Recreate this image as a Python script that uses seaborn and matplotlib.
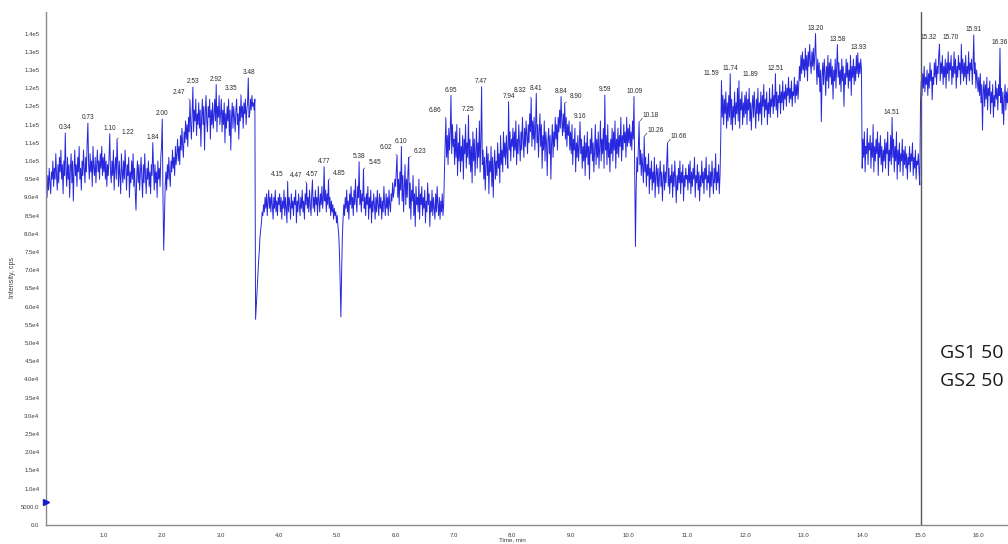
import numpy as np
import pandas as pd
import matplotlib
matplotlib.use("Agg")
import matplotlib.pyplot as plt
import seaborn as sns

# Scan cycle of the acquisition (minutes per data point)
SCAN_INTERVAL_MIN = 0.0125

# Total ion current, thousands of cps, one list per minute of the run
tic_min00 = [88, 93, 90, 96, 92, 98, 94, 91, 97, 95,
             100, 93, 98, 95, 102, 96, 92, 99, 94, 101,
             97, 103, 95, 99, 91, 100, 96, 107.7, 97, 93,
             101, 95, 99, 90, 98, 102, 94, 100, 89, 97,
             103, 96, 99, 93, 101, 97, 104, 95, 98, 92,
             100, 96, 103, 98, 94, 101, 97, 105, 110.4, 99,
             95, 102, 97, 100, 93, 104, 98, 96, 101, 94,
             99, 103, 97, 100, 95, 102, 98, 104, 96, 101]
tic_min01 = [97, 102, 95, 100, 93, 99, 96, 101, 107.5, 97,
             94, 100, 96, 103, 92, 98, 101, 95, 106, 99,
             93, 100, 96, 91, 102, 97, 94, 100, 95, 103,
             98, 92, 99, 96, 101, 90, 97, 94, 100, 95,
             102, 93, 98, 91, 86.5, 96, 100, 94, 99, 92,
             97, 101, 95, 90, 99, 94, 102, 96, 91, 98,
             95, 100, 93, 97, 91, 99, 96, 105, 98, 92,
             99, 94, 97, 90, 100, 95, 98, 93, 101, 104]
tic_min02 = [111.5, 90, 75.5, 84, 93, 97, 92, 99, 95, 101,
             96, 93, 100, 97, 103, 98, 101, 96, 104, 99,
             102, 106, 100, 104, 99, 107, 103, 109, 104, 101,
             108, 105, 111, 106, 110, 104, 112, 108, 116.8, 110,
             106, 113, 120.3, 108, 114, 111, 117, 107, 113, 110,
             116, 109, 114, 104, 112, 117, 110, 115, 103, 113,
             118, 111, 108, 115, 112, 117, 106, 114, 110, 116,
             109, 113, 117, 111, 121, 108, 115, 112, 118, 110]
tic_min03 = [113, 117, 108, 114, 110, 116, 105, 113, 109, 115,
             111, 117, 107, 114, 103, 112, 116, 109, 115, 112,
             108, 114, 117, 110, 113, 106, 115, 111, 118, 112,
             115, 109, 116, 113, 117, 110, 114, 116, 122.8, 112,
             113, 117, 114, 118, 115, 116, 114, 117, 56.5, 60,
             64, 68, 72, 75, 79, 81, 83, 86, 85, 88,
             86, 90, 87, 91, 85, 89, 92, 87, 90, 86,
             91, 88, 84, 90, 87, 92, 86, 89, 85, 90]
tic_min04 = [88, 91, 86, 90, 84, 89, 87, 92, 85, 90,
             87, 83, 94.3, 86, 90, 88, 84, 91, 87, 89,
             85, 90, 88, 92, 83, 89, 86, 91, 88, 85,
             90, 87, 92, 86, 89, 84, 91, 88, 94, 87,
             90, 86, 92, 88, 85, 91, 94.8, 87, 90, 86,
             92, 88, 90, 85, 93, 89, 86, 91, 88, 93,
             87, 90, 98.4, 89, 92, 86, 91, 88, 94.8, 87,
             90, 85, 89, 86, 88, 84, 87, 85, 86, 83]
tic_min05 = [85, 82, 80, 75, 67, 57.2, 69, 79, 84, 88,
             85, 90, 87, 92, 86, 89, 84, 91, 88, 93,
             87, 90, 85, 92, 88, 95, 89, 86, 93, 90,
             99.8, 88, 92, 86, 91, 89, 97.8, 87, 90, 85,
             91, 88, 93, 84, 90, 87, 92, 83, 89, 86,
             91, 88, 84, 90, 86, 92, 88, 85, 91, 87,
             90, 84, 89, 86, 93, 88, 85, 91, 87, 90,
             85, 92, 88, 86, 91, 89, 94, 90, 92, 95]
tic_min06 = [93, 97, 101.6, 90, 95, 88, 97, 92, 104, 89,
             96, 86, 93, 99, 88, 95, 90, 97, 101, 87,
             94, 84, 92, 89, 96, 85, 91, 82, 93, 88,
             90, 86, 95, 84, 91, 88, 93, 85, 90, 87,
             92, 83, 89, 86, 94, 88, 91, 82, 89, 86,
             92, 85, 90, 87, 84, 91, 86, 93, 88, 85,
             90, 84, 89, 86, 91, 85, 88, 97, 104, 111.8,
             101, 107, 99, 109, 103, 108, 118, 102, 110, 104]
tic_min07 = [106, 99, 108, 101, 110, 96, 105, 100, 109, 97,
             104, 100, 107, 95, 106, 102, 110, 98, 105, 101,
             112.6, 99, 106, 97, 104, 94, 108, 100, 106, 96,
             103, 109, 98, 105, 101, 111, 97, 106, 120.4, 99,
             103, 95, 101, 92, 99, 104, 96, 102, 91, 100,
             97, 104, 93, 101, 90, 99, 103, 95, 100, 96,
             105, 98, 102, 94, 107, 99, 103, 97, 108, 101,
             105, 99, 107, 102, 98, 116.3, 103, 108, 100, 106]
tic_min08 = [104, 109, 101, 108, 103, 111, 99, 106, 102, 110,
             105, 100, 108, 103, 112, 106, 101, 109, 104, 111,
             107, 102, 110, 105, 113, 108, 117.3, 104, 111, 106,
             112, 103, 109, 118.6, 105, 110, 101, 108, 113, 104,
             110, 98, 107, 103, 111, 100, 108, 105, 96, 106,
             109, 102, 107, 95, 105, 110, 101, 108, 104, 112,
             106, 110, 103, 112, 108, 114, 109, 117.7, 111, 107,
             113, 108, 115.9, 106, 112, 104, 110, 107, 111, 103]
tic_min09 = [108, 102, 110, 99, 106, 103, 109, 97, 105, 101,
             107, 100, 104, 110.8, 102, 106, 98, 104, 100, 107,
             96, 105, 101, 108, 99, 104, 95, 106, 102, 109,
             100, 105, 97, 103, 110, 99, 106, 101, 108, 98,
             104, 111, 100, 106, 102, 109, 98, 118.1, 103, 107,
             99, 110, 101, 105, 97, 106, 102, 109, 100, 108,
             103, 111, 98, 106, 102, 109, 101, 107, 104, 112,
             100, 107, 103, 110, 105, 108, 101, 112, 104, 109]
tic_min10 = [105, 110, 104, 108, 103, 111, 106, 117.7, 96, 76.5,
             92, 101, 97, 104, 110.8, 99, 103, 96, 102, 98,
             94, 106.7, 97, 101, 93, 99, 96, 102, 91, 98,
             95, 100, 92, 97, 94, 101, 90, 96, 99, 93,
             98, 91, 96, 100, 93, 97, 89, 95, 99, 92,
             97, 94, 100, 105, 93, 98, 91, 96, 94, 99,
             90, 97, 93, 100, 95, 88.5, 96, 92, 98, 94,
             100, 91, 97, 94, 99, 89, 96, 93, 98, 95]
tic_min11 = [96, 92, 99, 94, 100, 91, 97, 93, 98, 95,
             101, 90, 96, 94, 99, 92, 97, 89, 96, 93,
             100, 94, 97, 91, 98, 95, 101, 92, 96, 94,
             99, 90, 97, 93, 100, 95, 91, 98, 94, 102,
             92, 97, 94, 99, 91, 96, 106, 122, 112, 118,
             110, 117, 113, 119, 109, 116, 111, 118, 112, 124,
             110, 117, 108.5, 115, 112, 119, 110, 116, 113, 120,
             111, 122, 109, 117, 114, 119, 110, 116, 112, 118]
tic_min12 = [113, 119, 110, 117, 114, 120, 111, 116, 108.5, 115,
             118, 112, 119, 114, 109, 117, 113, 120, 111, 116,
             113, 119, 110, 118, 115, 121, 112, 117, 114, 119,
             110, 116, 113, 120, 112, 117, 115, 121, 113, 118,
             115, 124, 114, 119, 112, 118, 116, 121, 113, 119,
             116, 122, 114, 119, 117, 121, 115, 120, 118, 123,
             116, 120, 117, 122, 115, 119, 118, 123, 116, 121,
             118, 122, 117, 121, 126, 122, 129, 124, 130, 125]
tic_min13 = [128, 123, 131, 125, 129, 122, 130, 126, 132, 127,
             124, 130, 126, 131, 125, 129, 135, 127, 121, 128,
             123, 127, 119, 125, 110.8, 123, 127, 121, 128, 124,
             118, 126, 122, 129, 120, 127, 123, 128, 121, 126,
             117, 125, 122, 128, 120, 126, 132, 123, 127, 121,
             125, 119, 128, 122, 126, 115, 124, 121, 128, 123,
             127, 120, 125, 122, 129, 118, 126, 123, 128, 121,
             126, 122, 129, 124, 129.7, 123, 127, 124, 128, 125]
tic_min14 = [98, 106, 101, 108, 97, 104, 102, 109, 99, 105,
             103, 107, 98, 105, 101, 110, 97, 104, 100, 106,
             102, 108, 96, 105, 101, 107, 99, 104, 97, 103,
             100, 106, 98, 105, 102, 108, 96, 103, 100, 107,
             99, 112, 101, 106, 97, 104, 100, 108, 95, 103,
             99, 105, 97, 102, 100, 106, 96, 103, 99, 104,
             98, 102, 95, 101, 99, 104, 97, 102, 100, 105,
             96, 101, 98, 103, 95, 100, 99, 102, 97, 93.4]
tic_min15 = [116, 122, 118, 124, 120, 126, 119, 123, 121, 125,
             118, 124, 120, 127, 122, 125, 116.8, 123, 121, 127,
             123, 128, 121, 126, 124, 129, 132, 122, 127, 124,
             129, 121, 126, 123, 128, 120, 127, 124, 130, 122,
             127, 125, 129, 121, 126, 123, 130, 124, 128, 120,
             126, 123, 129, 125, 127, 121, 132, 124, 128, 122,
             127, 123, 129, 121, 126, 124, 130, 122, 127, 125,
             128, 121, 126, 134.6, 124, 127, 120, 125, 122, 119]
tic_min16 = [123, 118, 124, 116, 121, 108.5, 119, 122, 115, 121,
             117, 123, 114, 120, 118, 122, 113, 119, 116, 121,
             112, 118, 115, 122, 117, 120, 114, 121, 118, 131,
             116, 120, 113, 119, 110, 117, 121, 114, 119, 116,
             120, 111, 118, 115, 121, 113, 119, 116]

# Apex retention times flagged by the peak finder
peak_labels = ["0.34", "0.73", "1.10", "1.22", "1.84", "2.00", "2.47", "2.53",
               "2.92", "3.35", "3.48", "4.15", "4.47", "4.57", "4.77", "4.85",
               "5.38", "5.45", "6.02", "6.10", "6.23", "6.86", "6.95", "7.25",
               "7.47", "7.94", "8.32", "8.41", "8.84", "8.90", "9.16", "9.59",
               "10.09", "10.18", "10.26", "10.66", "11.59", "11.74", "11.89",
               "12.51", "13.20", "13.58", "13.93", "14.51", "15.32", "15.70",
               "15.91", "16.36"]
# Labels pushed aside (with a leader) to avoid collisions
labels_pushed_left = ["2.47", "3.35", "4.15", "4.47", "6.02", "6.86", "8.32",
                      "11.59", "15.32", "15.70"]
labels_pushed_right = ["1.22", "4.85", "5.45", "6.23", "8.90", "10.18", "10.26",
                       "10.66", "11.89"]

gas_settings = ["GS1 50", "GS2 50"]
gas_switch_time = 15.0
baseline_marker_cps = 6300

x_tick_values = [1.0, 2.0, 3.0, 4.0, 5.0, 6.0, 7.0, 8.0, 9.0, 10.0,
                 11.0, 12.0, 13.0, 14.0, 15.0, 16.0]
y_tick_step = 5000
y_tick_max = 135000


def tick_text(v):
    # two significant digits, rounded half up, as the acquisition software prints them
    if v == 0:
        return "0.0"
    if v < 10000:
        return f"{v:.1f}"
    e = len(str(int(v))) - 1
    tenths = (int(v) + 5 * 10 ** (e - 2)) // 10 ** (e - 1)
    return f"{tenths // 10}.{tenths % 10}e{e}"


intensity = np.concatenate([tic_min00, tic_min01, tic_min02, tic_min03, tic_min04,
                            tic_min05, tic_min06, tic_min07, tic_min08, tic_min09,
                            tic_min10, tic_min11, tic_min12, tic_min13, tic_min14,
                            tic_min15, tic_min16]) * 1000.0
time_min = np.arange(len(intensity)) * SCAN_INTERVAL_MIN
df = pd.DataFrame({"time": time_min, "intensity": intensity})

sns.set_theme(style="white")
plt.rcParams["font.family"] = ["Liberation Sans", "DejaVu Sans"]

W, H = 1008, 544
fig = plt.figure(figsize=(W / 100, H / 100), dpi=100)
x0_px, y0_px = 45.6, 525.0
px_per_min = 58.36
px_per_cps = 3.64 / 1000.0
y_top = 141000
ax = fig.add_axes([x0_px / W, (H - y0_px) / H, (W - x0_px) / W, y_top * px_per_cps / H])

line_color = "#1414dc"
sns.lineplot(data=df, x="time", y="intensity", ax=ax, color=line_color,
             linewidth=0.7, alpha=0.92, estimator=None, sort=False)

ax.set_xlim(0, (W - x0_px) / px_per_min)
ax.set_ylim(0, y_top)

ax.axvline(gas_switch_time, color="#5a5a5a", linewidth=1.0, zorder=3)
ax.plot([0], [baseline_marker_cps], marker=">", color="#1a1ad0", markersize=4.5,
        clip_on=False, zorder=4, linestyle="none")

# axes, ticks
for side in ("top", "right"):
    ax.spines[side].set_visible(False)
for side in ("left", "bottom"):
    ax.spines[side].set_color("#8a8a8a")
    ax.spines[side].set_linewidth(1.0)

ax.set_xticks(x_tick_values)
ax.set_xticklabels([f"{v:.1f}" for v in x_tick_values])
ax.set_xticks(np.arange(0.5, 16.6, 1.0), minor=True)
yt = list(range(0, y_tick_max + 1, y_tick_step))
ax.set_yticks(yt)
ax.set_yticklabels([tick_text(v) for v in yt])
ax.set_yticks(np.arange(0, y_tick_max + 1, 1000), minor=True)
ax.tick_params(axis="both", which="major", direction="out", length=2.5, width=0.6,
               color="#777777", labelsize=4.3, labelcolor="#3a3a3a", pad=2)
ax.tick_params(axis="both", which="minor", direction="out", length=1.5, width=0.5,
               color="#999999")
ax.tick_params(axis="x", which="major", pad=3)

ax.set_xlabel("Time, min", fontsize=4.4, color="#3a3a3a")
ax.set_ylabel("Intensity, cps", fontsize=5.0, color="#3a3a3a")
ax.xaxis.set_label_coords((512 - x0_px) / (W - x0_px), -(537 - y0_px) / (y_top * px_per_cps))
ax.yaxis.set_label_coords(-(x0_px - 16) / (W - x0_px), (y0_px - 277) / (y_top * px_per_cps))
ax.grid(False)

# peak apex labels
for lab in peak_labels:
    t = float(lab)
    idx = int(round(t / SCAN_INTERVAL_MIN))
    y = intensity[idx]
    common = dict(xy=(t, y), textcoords="offset points", fontsize=4.7,
                  color="#2a2a2a", va="bottom", ha="center", zorder=5)
    if lab in labels_pushed_left:
        ax.annotate(lab, xytext=(-7.5, 2.8),
                    arrowprops=dict(arrowstyle="-", color="#444444", lw=0.5,
                                    shrinkA=0, shrinkB=0.5, relpos=(1.0, 0.1)),
                    **common)
    elif lab in labels_pushed_right:
        ax.annotate(lab, xytext=(8.0, 2.0),
                    arrowprops=dict(arrowstyle="-", color="#444444", lw=0.5,
                                    shrinkA=0, shrinkB=0.5, relpos=(0.0, 0.1)),
                    **common)
    else:
        ax.annotate(lab, xytext=(0, 1.2), **common)

# ion source gas settings
for k, txt in enumerate(gas_settings):
    fig.text(940 / W, 1 - (357.5 + 28.3 * k) / H, txt, fontsize=14,
             family=["Open Sans", "DejaVu Sans"], color="#1a1a1a",
             ha="left", va="baseline")

fig.savefig("out.png", dpi=100)
